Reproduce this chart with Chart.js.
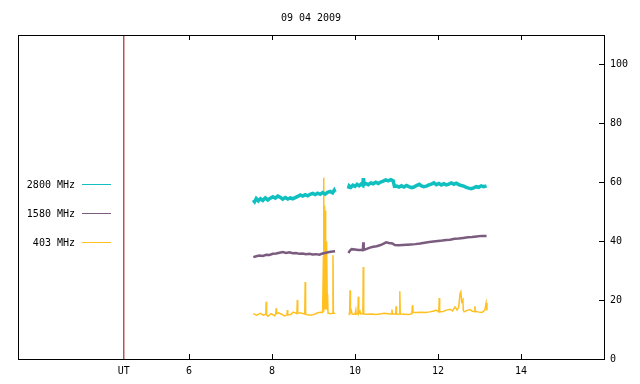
<!DOCTYPE html>
<html>
<head>
<meta charset="utf-8">
<script src="https://cdn.jsdelivr.net/npm/chart.js@4.4.1/dist/chart.umd.min.js"></script>
<style>
html,body{margin:0;padding:0;background:#fff;}
#wrap{width:640px;height:384px;}
</style>
</head>
<body>
<div id="wrap"><canvas id="c" width="640" height="384"></canvas></div>
<script>
// ---- data (hours UT, solar flux values) ----
const titleText = "09 04 2009";
const seriesNames = ["2800 MHz", "1580 MHz", "403 MHz"];
const xTickValues = [6, 8, 10, 12, 14];
const yTickValues = [0, 20, 40, 60, 80, 100];
const utHour = 4.43;
const utLabel = "UT";
const gapHour = 9.68;

const h2800 = [7.55,7.58,7.62,7.67,7.72,7.78,7.84,7.9,7.96,8.02,8.08,8.14,8.2,8.26,8.32,8.38,8.44,8.5,8.56,8.62,8.68,8.74,8.8,8.86,8.92,8.98,9.04,9.1,9.16,9.22,9.28,9.34,9.4,9.46,9.5,9.52,
  9.84,9.86,9.9,9.95,10.0,10.05,10.1,10.15,10.19,10.2,10.21,10.26,10.32,10.38,10.44,10.5,10.56,10.62,10.68,10.74,10.8,10.86,10.92,10.95,11.0,11.06,11.12,11.18,11.24,11.3,11.36,11.42,11.48,11.55,11.6,11.66,11.72,11.78,11.84,11.9,11.96,12.02,12.08,12.14,12.2,12.26,12.32,12.38,12.44,12.5,12.56,12.62,12.68,12.74,12.8,12.86,12.92,12.98,13.04,13.1,13.17];
const v2800 = [54.0,53.4,54.5,53.7,54.4,53.8,54.7,54.0,54.6,55.1,54.6,55.3,54.9,54.3,54.8,54.3,54.7,54.4,54.8,55.2,55.7,55.3,55.8,55.4,55.9,56.2,55.8,56.3,55.9,56.5,56.0,56.6,56.9,56.4,57.3,56.7,
  57.8,58.8,58.3,59.0,58.6,59.3,58.8,59.4,59.0,61.4,59.2,59.6,59.2,59.8,59.5,60.0,59.6,60.1,60.4,60.8,60.5,60.9,60.5,58.6,58.7,58.4,58.8,58.4,58.9,58.5,58.2,58.4,58.9,59.3,58.8,58.5,58.7,59.1,59.4,59.8,59.2,59.6,59.1,59.5,59.1,59.4,59.8,59.3,59.7,59.2,58.9,58.7,58.3,58.0,57.8,58.1,58.5,58.3,58.8,58.5,58.8];

const h1580 = [7.55,7.62,7.7,7.78,7.86,7.94,8.02,8.1,8.18,8.26,8.34,8.42,8.5,8.58,8.66,8.74,8.82,8.9,8.98,9.06,9.14,9.22,9.3,9.38,9.46,9.52,
  9.84,9.88,9.92,10.0,10.08,10.19,10.2,10.21,10.28,10.36,10.44,10.52,10.6,10.68,10.75,10.82,10.9,10.96,11.05,11.15,11.25,11.35,11.45,11.57,11.68,11.79,11.89,12.0,12.1,12.2,12.29,12.4,12.5,12.61,12.72,12.82,12.93,13.05,13.17];
const v1580 = [34.6,34.9,35.1,35.0,35.4,35.3,35.7,35.8,36.1,36.3,36.0,36.2,35.9,36.0,35.7,35.8,35.6,35.7,35.5,35.6,35.4,35.8,36.1,36.3,36.5,36.6,
  36.0,36.8,37.3,37.2,37.0,37.1,39.6,37.0,37.4,37.8,38.1,38.3,38.6,39.1,39.6,39.4,39.2,38.7,38.6,38.7,38.8,38.9,39.0,39.2,39.5,39.7,39.9,40.1,40.2,40.4,40.5,40.8,40.9,41.1,41.3,41.4,41.6,41.8,41.8];

const h403 = [7.55,7.63,7.72,7.79,7.85,7.86,7.87,7.9,7.98,8.06,8.09,8.10,8.11,8.16,8.23,8.3,8.36,8.37,8.38,8.45,8.51,8.6,8.61,8.62,8.7,8.79,8.8,8.81,8.88,8.96,9.04,9.1,9.17,9.22,9.24,9.245,9.25,9.255,9.26,9.265,9.27,9.275,9.28,9.285,9.29,9.295,9.30,9.305,9.31,9.315,9.32,9.33,9.34,9.35,9.41,9.46,9.47,9.48,9.52,
  9.84,9.87,9.88,9.89,9.91,9.93,10.0,10.02,10.03,10.07,10.08,10.09,10.12,10.14,10.19,10.2,10.21,10.3,10.4,10.5,10.6,10.7,10.8,10.88,10.89,10.9,10.98,10.99,11.0,11.07,11.08,11.09,11.2,11.3,11.37,11.38,11.39,11.4,11.5,11.6,11.7,11.8,11.9,11.95,12.02,12.03,12.04,12.1,12.2,12.29,12.35,12.41,12.46,12.5,12.53,12.55,12.57,12.6,12.61,12.63,12.7,12.77,12.83,12.88,12.89,12.9,12.96,13.06,13.13,13.16,13.18];
const v403 = [15.4,14.9,15.5,14.9,15.2,19.4,15.0,14.5,15.4,14.7,15.2,17.2,15.4,15.7,15.2,14.6,15.0,16.6,15.0,15.1,15.9,15.4,20.0,15.6,15.6,15.3,26.1,15.2,14.9,14.9,15.3,15.7,15.9,15.8,35,16,61.5,18,38,17,52,20,45,19,50.4,18,34,17,24,18,39.9,22,21.6,15.6,15.4,15.5,35.2,15.6,15.4,
  15.2,15.3,23.3,15.8,16.5,15.3,15.2,16.6,15.2,15.3,21.1,15.4,16.2,15.3,15.4,31.2,15.3,15.2,15.3,15.1,15.3,15.5,15.4,15.3,16.8,15.3,15.3,17.9,15.2,15.3,23.0,15.3,15.2,15.1,15.4,17.7,18.3,15.8,15.8,15.9,15.8,16.0,16.3,16.6,16.0,20.7,16.0,16.0,16.6,16.9,16.3,17.7,16.6,17.7,22.2,22.8,19.5,20.2,16.5,16.0,16.5,16.8,16.2,16.0,17.9,16.2,16.0,15.8,16.6,19.0,16.5];

// ---- build points, breaking the line at the data gap ----
function buildPoints(hours, values) {
  const pts = [];
  for (let i = 0; i < hours.length; i++) {
    if (i > 0 && hours[i - 1] < gapHour && hours[i] > gapHour) pts.push({x: gapHour, y: null});
    pts.push({x: hours[i], y: values[i]});
  }
  return pts;
}

const colors = ["#10c0c0", "#7b5c7f", "#ffc020"];
const utColor = "#990000";
const FONT = '"DejaVu Sans Mono", monospace';

const framePlugin = {
  id: 'frame',
  afterDraw(chart) {
    const ctx = chart.ctx, a = chart.chartArea;
    const xs = chart.scales.x, ys = chart.scales.y;
    ctx.save();
    ctx.strokeStyle = '#000';
    ctx.lineWidth = 1;
    ctx.strokeRect(Math.round(a.left) + 0.5, Math.round(a.top) + 0.5, Math.round(a.right - a.left), Math.round(a.bottom - a.top));
    ctx.beginPath();
    xTickValues.forEach(v => {
      const px = Math.round(xs.getPixelForValue(v)) + 0.5;
      ctx.moveTo(px, a.bottom); ctx.lineTo(px, a.bottom - 5);
      ctx.moveTo(px, a.top); ctx.lineTo(px, a.top + 5);
    });
    yTickValues.forEach(v => {
      const py = Math.round(ys.getPixelForValue(v)) + 0.5;
      ctx.moveTo(a.right, py); ctx.lineTo(a.right - 5, py);
    });
    ctx.stroke();
    // legend
    ctx.font = '10px ' + FONT;
    ctx.textAlign = 'right';
    ctx.textBaseline = 'middle';
    ctx.fillStyle = '#000';
    const legendY = [184, 213, 242];
    seriesNames.forEach((name, i) => {
      ctx.fillText(name, 75, legendY[i] + 1);
      ctx.strokeStyle = colors[i];
      ctx.beginPath();
      ctx.moveTo(82, legendY[i] + 0.5); ctx.lineTo(111, legendY[i] + 0.5);
      ctx.stroke();
    });
    ctx.restore();
  }
};

new Chart(document.getElementById('c'), {
  type: 'line',
  data: {
    datasets: [
      {label: 'UT', data: [{x: utHour, y: 0}, {x: utHour, y: 110}], borderColor: utColor, borderWidth: 1, pointRadius: 0},
      {label: seriesNames[0], data: buildPoints(h2800, v2800), borderColor: colors[0], borderWidth: 3.5, pointRadius: 0, spanGaps: false},
      {label: seriesNames[1], data: buildPoints(h1580, v1580), borderColor: colors[1], borderWidth: 2.5, pointRadius: 0, spanGaps: false},
      {label: seriesNames[2], data: buildPoints(h403, v403), borderColor: colors[2], borderWidth: 1.5, pointRadius: 0, spanGaps: false}
    ]
  },
  options: {
    responsive: false,
    animation: false,
    layout: {padding: {left: 18, right: 0, top: 0, bottom: 0}},
    plugins: {
      legend: {display: false},
      tooltip: {enabled: false},
      title: {display: true, fullSize: false, text: titleText, color: '#000', font: {family: FONT, size: 10, weight: 'normal', lineHeight: 1.2}, padding: {top: 12, bottom: 11}}
    },
    scales: {
      x: {
        type: 'linear', position: 'bottom', min: 1.88, max: 16,
        grid: {display: false, drawTicks: false},
        border: {display: false},
        afterBuildTicks(scale) { scale.ticks = [utHour].concat(xTickValues).map(v => ({value: v})); },
        afterFit(scale) { scale.height = 25; },
        ticks: {
          color: '#000', padding: 6, maxRotation: 0, autoSkip: false,
          font: {family: FONT, size: 10},
          callback: (v) => v === utHour ? utLabel : String(v)
        }
      },
      y: {
        type: 'linear', position: 'right', min: 0, max: 110,
        grid: {display: false, drawTicks: false},
        border: {display: false},
        afterBuildTicks(scale) { scale.ticks = yTickValues.map(v => ({value: v})); },
        afterFit(scale) { scale.width = 36; },
        ticks: {color: '#000', padding: 6, autoSkip: false, font: {family: FONT, size: 10}, callback: (v) => String(v)}
      }
    }
  },
  plugins: [framePlugin]
});
</script>
</body>
</html>
